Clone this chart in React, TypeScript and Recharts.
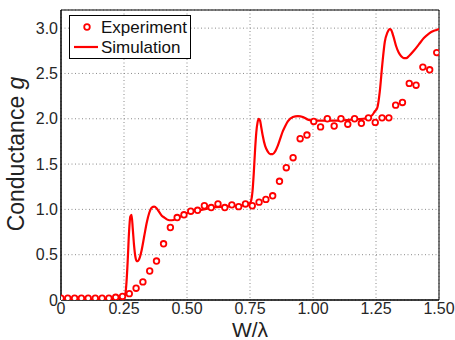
import React from 'react';
import { ComposedChart, Line, Scatter, XAxis, YAxis, CartesianGrid, ReferenceArea } from 'recharts';

const expW = [0, 0.027, 0.054, 0.081, 0.108, 0.136, 0.163, 0.19, 0.217, 0.244, 0.271, 0.298, 0.325, 0.352, 0.379, 0.407, 0.434, 0.461, 0.488, 0.515, 0.542, 0.569, 0.596, 0.623, 0.65, 0.678, 0.705, 0.732, 0.759, 0.786, 0.813, 0.84, 0.867, 0.894, 0.921, 0.949, 0.976, 1.003, 1.03, 1.057, 1.084, 1.111, 1.138, 1.165, 1.192, 1.22, 1.247, 1.274, 1.301, 1.328, 1.355, 1.382, 1.409, 1.436, 1.463, 1.491];
const expG = [0.02, 0.02, 0.02, 0.02, 0.02, 0.02, 0.02, 0.02, 0.03, 0.04, 0.07, 0.13, 0.2, 0.32, 0.43, 0.62, 0.8, 0.91, 0.94, 0.98, 0.99, 1.04, 1.02, 1.06, 1.02, 1.05, 1.03, 1.06, 1.04, 1.08, 1.11, 1.15, 1.31, 1.46, 1.57, 1.78, 1.82, 1.97, 1.91, 2.0, 1.92, 2.0, 1.94, 2.0, 1.95, 2.01, 1.96, 2.01, 2.01, 2.15, 2.18, 2.39, 2.37, 2.57, 2.54, 2.73];

const simW = [0, 0.05, 0.1, 0.15, 0.2, 0.24, 0.25, 0.255, 0.26, 0.265, 0.27, 0.275, 0.28, 0.285, 0.29, 0.295, 0.3, 0.305, 0.31, 0.32, 0.33, 0.34, 0.35, 0.36, 0.37, 0.38, 0.39, 0.4, 0.41, 0.42, 0.43, 0.44, 0.46, 0.48, 0.5, 0.55, 0.6, 0.65, 0.7, 0.74, 0.75, 0.755, 0.76, 0.765, 0.77, 0.775, 0.78, 0.785, 0.79, 0.795, 0.8, 0.81, 0.82, 0.83, 0.84, 0.85, 0.86, 0.87, 0.88, 0.89, 0.9, 0.92, 0.94, 0.96, 0.98, 1.0, 1.05, 1.1, 1.15, 1.2, 1.22, 1.235, 1.245, 1.255, 1.265, 1.275, 1.285, 1.295, 1.305, 1.31, 1.32, 1.33, 1.34, 1.35, 1.36, 1.37, 1.38, 1.4, 1.42, 1.44, 1.46, 1.48, 1.49, 1.5];
const simG = [0.01, 0.01, 0.01, 0.01, 0.01, 0.02, 0.03, 0.06, 0.2, 0.45, 0.75, 0.92, 0.94, 0.78, 0.6, 0.48, 0.43, 0.43, 0.45, 0.55, 0.7, 0.85, 0.96, 1.02, 1.03, 1.01, 0.97, 0.93, 0.91, 0.89, 0.88, 0.88, 0.9, 0.93, 0.96, 0.99, 1.02, 1.03, 1.04, 1.05, 1.07, 1.1, 1.2, 1.4, 1.65, 1.85, 1.96, 2.0, 1.98, 1.9, 1.82, 1.7, 1.64, 1.61, 1.61, 1.64, 1.7, 1.78, 1.86, 1.92, 1.97, 2.02, 2.03, 2.02, 1.99, 1.98, 1.98, 1.98, 1.99, 2.0, 2.01, 2.04, 2.08, 2.12, 2.3, 2.6, 2.85, 2.95, 2.99, 2.98, 2.9, 2.8, 2.73, 2.69, 2.67, 2.67, 2.69, 2.75, 2.82, 2.89, 2.94, 2.97, 2.98, 2.99];

const xTicks = [0, 0.25, 0.5, 0.75, 1.0, 1.25, 1.5];
const yTicks = [0, 0.5, 1.0, 1.5, 2.0, 2.5, 3.0];

const expData = expW.map((w, i) => ({ w, g: expG[i] }));
const simData = simW.map((w, i) => ({ w, g: simG[i] }));

const RED = '#ff0000';
const FONT = '"Liberation Sans", Arial, Helvetica, sans-serif';
const TICK = '#262626';

const OpenCircle = (props: any) => (
  <circle cx={props.cx} cy={props.cy} r={2.8} fill="#fff" stroke={RED} strokeWidth={1.8} />
);

export default function App() {
  return (
    <div style={{ position: 'absolute', left: 0, top: 0, width: 455, height: 340, background: '#fff' }}>
      <ComposedChart width={455} height={340} margin={{ top: 10, right: 16, left: 0, bottom: 0 }}>
        <CartesianGrid stroke="#8a8a8a" strokeDasharray="1 2.5" strokeWidth={1} />
        <XAxis
          dataKey="w"
          type="number"
          domain={[0, 1.5]}
          ticks={xTicks}
          allowDataOverflow
          height={40}
          tickLine={false}
          tickSize={0}
          tickMargin={3}
          axisLine={{ stroke: '#000', strokeWidth: 1 }}
          tick={{ fill: TICK, fontSize: 16, fontFamily: FONT }}
          tickFormatter={(v: number) => (v === 0 ? '0' : v.toFixed(2))}
        />
        <YAxis
          dataKey="g"
          type="number"
          domain={[0, 3.2]}
          ticks={yTicks}
          allowDataOverflow
          width={61}
          tickLine={false}
          tickSize={0}
          tickMargin={3}
          axisLine={{ stroke: '#000', strokeWidth: 1 }}
          tick={{ fill: TICK, fontSize: 16, fontFamily: FONT }}
          tickFormatter={(v: number) => (v === 0 ? '0' : v.toFixed(1))}
        />
        <ReferenceArea x1={0} x2={1.5} y1={0} y2={3.2} fill="none" fillOpacity={0} stroke="#000" strokeWidth={1} ifOverflow="visible" />
        <Line data={simData} dataKey="g" type="monotone" stroke={RED} strokeWidth={2.2} dot={false} isAnimationActive={false} />
        <Scatter data={expData} dataKey="g" shape={OpenCircle} isAnimationActive={false} />
      </ComposedChart>
      <svg width={455} height={340} style={{ position: 'absolute', left: 0, top: 0, pointerEvents: 'none' }}>
        <text transform="translate(24,154) rotate(-90)" textAnchor="middle" fontSize={23} fontFamily={FONT} fill="#222">
          Conductance <tspan fontStyle="italic">g</tspan>
        </text>
        <text x={250} y={337} textAnchor="middle" fontSize={21} fontFamily={FONT} fill="#222">W/λ</text>
        <rect x={69.5} y={15.5} width={121} height={43} fill="#fff" stroke="#000" strokeWidth={1} />
        <circle cx={87} cy={27} r={2.8} fill="#fff" stroke={RED} strokeWidth={1.8} />
        <text x={101} y={33} fontSize={17} fontFamily={FONT} fill="#111">Experiment</text>
        <line x1={74} y1={47} x2={98} y2={47} stroke={RED} strokeWidth={2.2} />
        <text x={101} y={53} fontSize={17} fontFamily={FONT} fill="#111">Simulation</text>
      </svg>
    </div>
  );
}
